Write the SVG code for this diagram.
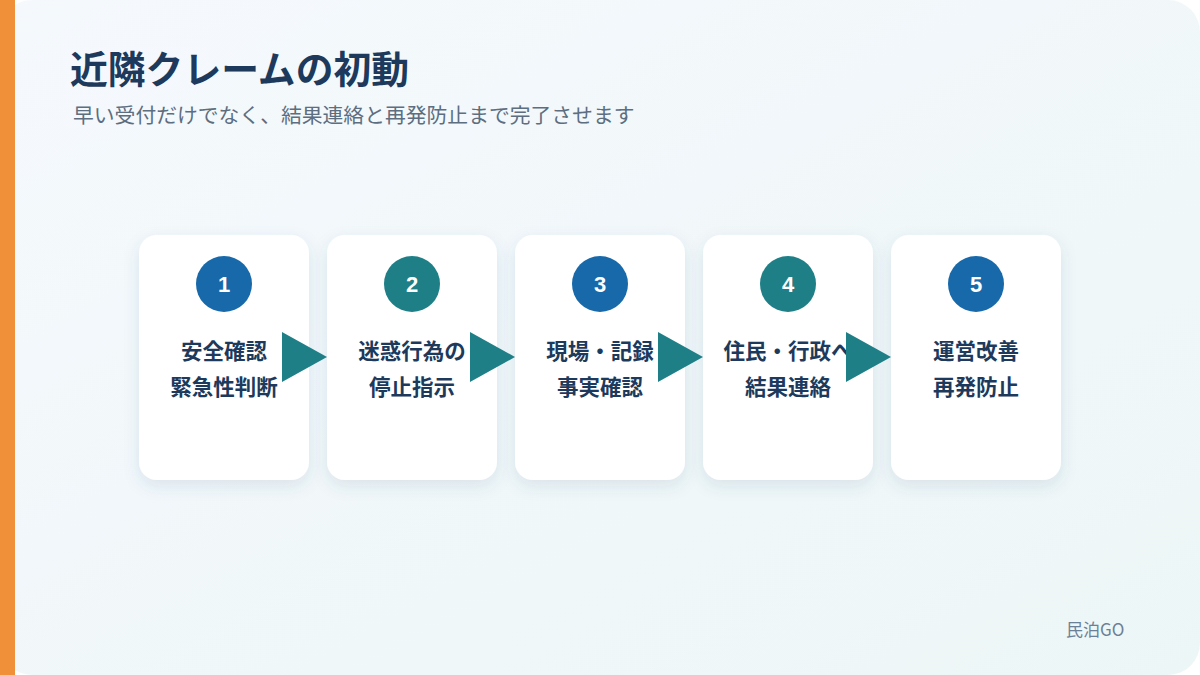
<svg xmlns="http://www.w3.org/2000/svg" width="1200" height="675" viewBox="0 0 1200 675">
<defs>
<linearGradient id="bg" x1="0" y1="0" x2="1" y2="1">
<stop offset="0" stop-color="#f5f9fd"/>
<stop offset="1" stop-color="#edf6f6"/>
</linearGradient>
<filter id="sh" x="-20%" y="-20%" width="140%" height="140%">
<feDropShadow dx="0" dy="6" stdDeviation="8" flood-color="#3a5a80" flood-opacity="0.12"/>
</filter>
<style>
.card{fill:#ffffff;filter:url(#sh)}
.num{font-family:"Liberation Sans",Arial,sans-serif;font-weight:bold;font-size:22px;fill:#ffffff;text-anchor:middle}
.lbl{font-family:"Noto Sans CJK JP","Noto Sans",sans-serif;font-weight:bold;font-size:21.5px;fill:#1d3a5c;text-anchor:middle}
.blue{fill:#1769aa}
.teal{fill:#1e7f87}
.arr{fill:#1e7f87}
</style>
</defs>
<rect x="0" y="0" width="1200" height="675" fill="#ffffff"/>
<rect x="0" y="0" width="1200" height="675" rx="32" fill="url(#bg)"/>
<rect x="0" y="0" width="15" height="675" fill="#f0913a"/>
<g id="title">
<text x="70" y="83" font-family="'Noto Sans CJK JP','Noto Sans',sans-serif" font-weight="bold" font-size="37.8" fill="#1d3a5c">近隣クレームの初動</text>
<text x="73" y="123" font-family="'Noto Sans CJK JP','Noto Sans',sans-serif" font-size="20.8" fill="#5c6e80">早い受付だけでなく、結果連絡と再発防止まで完了させます</text>
</g>
<g id="node1">
<rect class="card" x="139" y="235" width="170" height="245" rx="18"/>
<circle class="blue" cx="224" cy="284" r="28"/>
<text class="num" x="224" y="292">1</text>
<text class="lbl" x="224" y="359">安全確認</text>
<text class="lbl" x="224" y="395">緊急性判断</text>
</g>
<g id="node2">
<rect class="card" x="327" y="235" width="170" height="245" rx="18"/>
<circle class="teal" cx="412" cy="284" r="28"/>
<text class="num" x="412" y="292">2</text>
<text class="lbl" x="412" y="359">迷惑行為の</text>
<text class="lbl" x="412" y="395">停止指示</text>
</g>
<g id="node3">
<rect class="card" x="515" y="235" width="170" height="245" rx="18"/>
<circle class="blue" cx="600" cy="284" r="28"/>
<text class="num" x="600" y="292">3</text>
<text class="lbl" x="600" y="359">現場・記録</text>
<text class="lbl" x="600" y="395">事実確認</text>
</g>
<g id="node4">
<rect class="card" x="703" y="235" width="170" height="245" rx="18"/>
<circle class="teal" cx="788" cy="284" r="28"/>
<text class="num" x="788" y="292">4</text>
<text class="lbl" x="788" y="359">住民・行政へ</text>
<text class="lbl" x="788" y="395">結果連絡</text>
</g>
<g id="node5">
<rect class="card" x="891" y="235" width="170" height="245" rx="18"/>
<circle class="blue" cx="976" cy="284" r="28"/>
<text class="num" x="976" y="292">5</text>
<text class="lbl" x="976" y="359">運営改善</text>
<text class="lbl" x="976" y="395">再発防止</text>
</g>
<g id="connectors">
<polygon class="arr" points="282,332 282,382 327,357"/>
<polygon class="arr" points="470,332 470,382 515,357"/>
<polygon class="arr" points="658,332 658,382 703,357"/>
<polygon class="arr" points="846,332 846,382 891,357"/>
</g>
<text x="1066" y="636" font-family="'Noto Sans CJK JP','Noto Sans',sans-serif" font-size="17" fill="#6b8096">民泊GO</text>
</svg>
